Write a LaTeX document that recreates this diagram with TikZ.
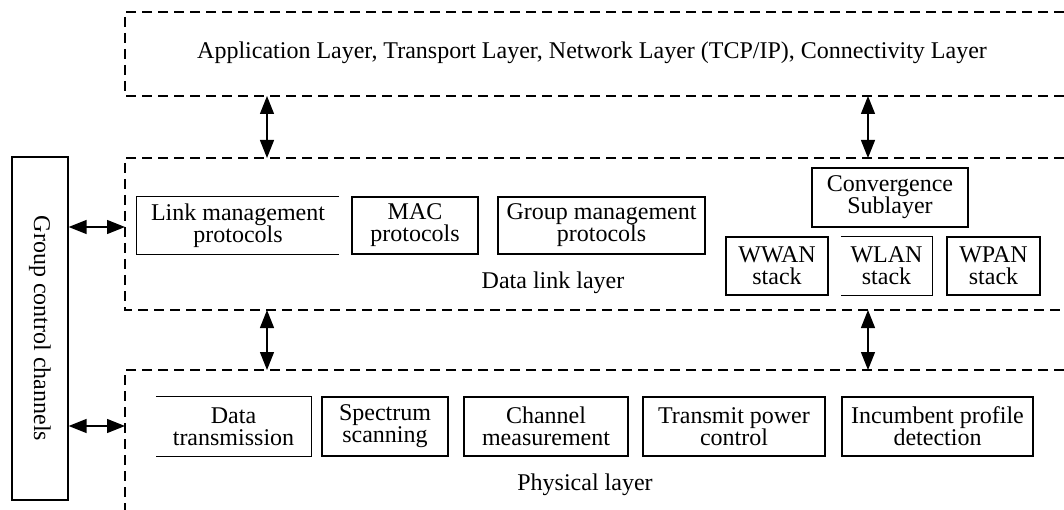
\documentclass[tikz,border=0pt]{standalone}
\usepackage{fontspec}
\setmainfont{Liberation Serif}
\usetikzlibrary{arrows.meta}
\tikzset{
  txt/.style={font=\fontsize{24}{22}\selectfont, align=center, inner sep=0pt},
  solidbox/.style={txt, draw, line width=1.2pt},
  openbox/.style={txt},
  boxline/.style={line width=1.2pt},
  layer/.style={line width=1.8pt, dash pattern=on 10pt off 6pt},
  dbl/.style={line width=1.3pt, {Triangle[length=18pt,width=14pt]}-{Triangle[length=18pt,width=14pt]}},
}
\begin{document}
\begin{tikzpicture}[x=1pt,y=-1pt]
\useasboundingbox (0,0) rectangle (1064,510);
% layers (open at right)
\draw[layer] (1064,12) -- (125,12) -- (125,96) -- (1064,96);
\draw[layer] (1064,158) -- (125,158) -- (125,310) -- (1064,310);
\draw[layer] (1064,370) -- (125,370) -- (125,510);
\node[txt] (apptxt) at (592,53) {Application Layer, Transport Layer, Network Layer (TCP/IP), Connectivity Layer};
\node[txt] (dltxt) at (553,283) {Data link layer};
\node[txt] (phytxt) at (585,485) {Physical layer};
% layer anchor coordinates
\coordinate (appA) at (267,96);
\coordinate (appB) at (868,96);
\coordinate (dlTA) at (267,158);
\coordinate (dlTB) at (868,158);
\coordinate (dlBA) at (267,310);
\coordinate (dlBB) at (868,310);
\coordinate (phyA) at (267,370);
\coordinate (phyB) at (868,370);
\coordinate (dlW) at (125,227);
\coordinate (phyW) at (125,426);
% group control channels
\node[solidbox, minimum width=56pt, minimum height=343pt] (gcc) at (40,328.5) {\rotatebox{-90}{Group control channels}};
% data link boxes
\node[openbox, minimum width=202pt, minimum height=57pt] (link) at (238,225.5) {Link management\\protocols};
\draw[boxline] (link.north east) -- (link.north west) -- (link.south west) -- (link.south east);
\node[solidbox, minimum width=126pt, minimum height=57pt] (mac) at (415,225.5) {MAC\\protocols};
\node[solidbox, minimum width=207pt, minimum height=57pt] (grp) at (601.5,225.5) {Group management\\protocols};
\node[solidbox, minimum width=156pt, minimum height=59pt] (conv) at (890,197.5) {Convergence\\Sublayer};
\node[solidbox, minimum width=102pt, minimum height=58pt] (wwan) at (777,266) {WWAN\\stack};
\node[openbox, minimum width=91pt, minimum height=58pt] (wlan) at (886.5,266) {WLAN\\stack};
\draw[boxline] (wlan.north west) -- (wlan.north east) -- (wlan.south east) -- (wlan.south west);
\node[solidbox, minimum width=93pt, minimum height=58pt] (wpan) at (993.5,266) {WPAN\\stack};
% physical boxes
\node[openbox, minimum width=155pt, minimum height=59pt] (data) at (233.5,426.5) {Data\\transmission};
\draw[boxline] (data.north west) -- (data.north east) -- (data.south east) -- (data.south west);
\node[solidbox, minimum width=126pt, minimum height=59pt] (spec) at (385,426.5) {Spectrum\\scanning};
\node[solidbox, minimum width=164pt, minimum height=59pt] (chan) at (546,426.5) {Channel\\measurement};
\node[solidbox, minimum width=182pt, minimum height=59pt] (trans) at (734,426.5) {Transmit power\\control};
\node[solidbox, minimum width=191pt, minimum height=59pt] (inc) at (937.5,426.5) {Incumbent profile\\detection};
% connectors
\draw[dbl] (appA) -- (dlTA);
\draw[dbl] (appB) -- (dlTB);
\draw[dbl] (dlBA) -- (phyA);
\draw[dbl] (dlBB) -- (phyB);
\draw[dbl] (gcc.east |- dlW) -- (dlW);
\draw[dbl] (gcc.east |- phyW) -- (phyW);
\end{tikzpicture}
\end{document}
